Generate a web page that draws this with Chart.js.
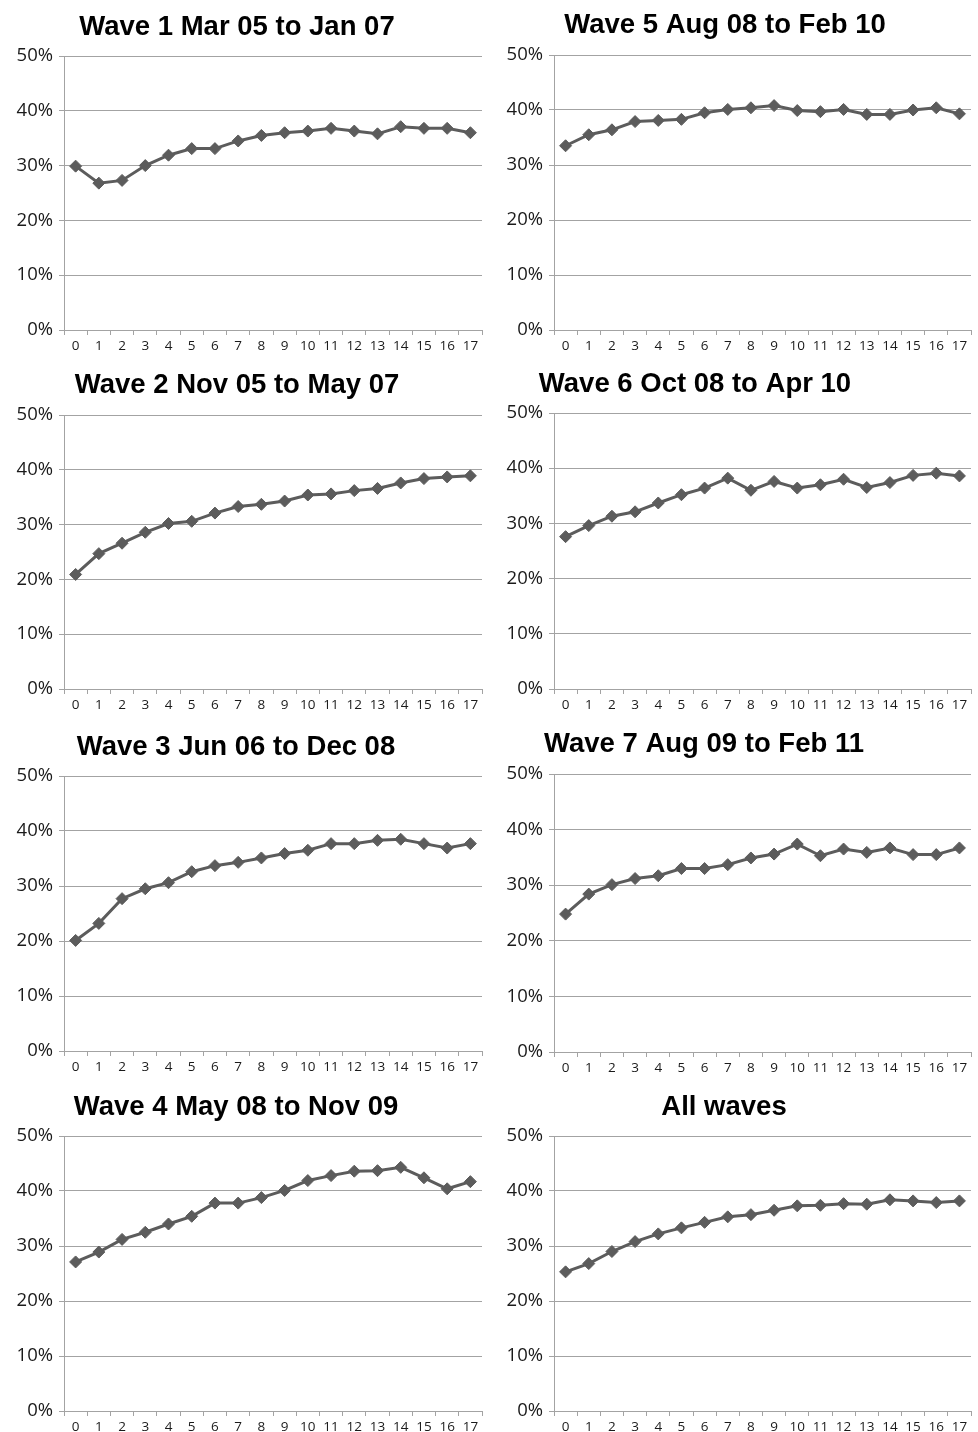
<!DOCTYPE html>
<html>
<head>
<meta charset="utf-8">
<script src="https://cdn.jsdelivr.net/npm/chart.js@4"></script>
<style>
  body { margin: 0; background: #fff; }
  #page { position: relative; width: 978px; height: 1432px; overflow: hidden; background: #fff; }
  #page canvas { position: absolute; }
</style>
</head>
<body>
<div id="page"></div>
<script>
// Months since start (x axis)
const months = ['0', '1', '2', '3', '4', '5', '6', '7', '8', '9',
                '10', '11', '12', '13', '14', '15', '16', '17'];

// Share of respondents, in %
const wave1 = [29.9, 26.8, 27.3, 30.0, 31.9, 33.1, 33.1, 34.5, 35.5, 36.0, 36.3, 36.8, 36.3, 35.8, 37.1, 36.8, 36.8, 36.0];
const wave2 = [20.9, 24.7, 26.6, 28.6, 30.2, 30.6, 32.1, 33.3, 33.7, 34.3, 35.4, 35.6, 36.2, 36.6, 37.6, 38.4, 38.7, 38.9];
const wave3 = [20.1, 23.2, 27.7, 29.5, 30.6, 32.6, 33.7, 34.3, 35.1, 35.9, 36.5, 37.7, 37.7, 38.3, 38.5, 37.7, 36.9, 37.7];
const wave4 = [27.1, 28.9, 31.2, 32.5, 34.0, 35.4, 37.8, 37.8, 38.8, 40.1, 41.9, 42.8, 43.6, 43.7, 44.3, 42.4, 40.4, 41.7];
const wave5 = [33.5, 35.5, 36.4, 37.9, 38.1, 38.3, 39.5, 40.1, 40.4, 40.8, 39.9, 39.7, 40.1, 39.2, 39.2, 40.0, 40.4, 39.3];
const wave6 = [27.6, 29.6, 31.3, 32.1, 33.7, 35.2, 36.4, 38.2, 36.0, 37.6, 36.4, 37.0, 38.0, 36.5, 37.4, 38.7, 39.1, 38.6];
const wave7 = [24.8, 28.4, 30.1, 31.2, 31.7, 33.0, 33.0, 33.7, 34.9, 35.6, 37.4, 35.3, 36.5, 35.9, 36.7, 35.5, 35.5, 36.7];
const allWaves = [25.3, 26.8, 29.0, 30.8, 32.2, 33.3, 34.3, 35.3, 35.7, 36.5, 37.3, 37.4, 37.7, 37.6, 38.4, 38.2, 37.9, 38.2];

// Y axis ticks (%)
const yMin = 0;
const yMax = 50;
const yStep = 10;

// Panels: title, series and where the panel sits on the page
const panels = [
    { title: 'Wave 1 Mar 05 to Jan 07', data: wave1,    left: 0,   top: 0,    titleX: 237, titleY: 35, plotTop: 56, plotBottom: 330 },
    { title: 'Wave 2 Nov 05 to May 07', data: wave2,    left: 0,   top: 360,  titleX: 237, titleY: 33, plotTop: 55, plotBottom: 329 },
    { title: 'Wave 3 Jun 06 to Dec 08', data: wave3,    left: 0,   top: 720,  titleX: 236, titleY: 35, plotTop: 56, plotBottom: 331 },
    { title: 'Wave 4 May 08 to Nov 09', data: wave4,    left: 0,   top: 1080, titleX: 236, titleY: 35, plotTop: 56, plotBottom: 331 },
    { title: 'Wave 5 Aug 08 to Feb 10', data: wave5,    left: 489, top: 0,    titleX: 236, titleY: 33, plotTop: 55, plotBottom: 330 },
    { title: 'Wave 6 Oct 08 to Apr 10', data: wave6,    left: 489, top: 360,  titleX: 206, titleY: 32, plotTop: 53, plotBottom: 329 },
    { title: 'Wave 7 Aug 09 to Feb 11', data: wave7,    left: 489, top: 720,  titleX: 215, titleY: 32, plotTop: 54, plotBottom: 332 },
    { title: 'All waves',               data: allWaves, left: 489, top: 1080, titleX: 235, titleY: 35, plotTop: 56, plotBottom: 331 }
];

const PANEL_W = 489;
const PAGE_H = 1432;
const X_AXIS_H = 22;
const LINE_COLOR = '#5c5c5c';
const GRID_COLOR = '#a3a3a3';

// Plugin that draws the bold title centred on a given x
const panelTitle = {
    id: 'panelTitle',
    afterDraw(chart, args, opts) {
        const ctx = chart.ctx;
        ctx.save();
        ctx.font = 'bold 27.5px "Liberation Sans", Arial, sans-serif';
        ctx.fillStyle = '#000';
        ctx.textAlign = 'center';
        ctx.textBaseline = 'alphabetic';
        ctx.fillText(opts.text, opts.x, opts.y);
        ctx.restore();
    }
};

function buildPanel(panel) {
    const page = document.getElementById('page');
    const canvas = document.createElement('canvas');
    const height = Math.min(360, PAGE_H - panel.top);
    canvas.width = PANEL_W;
    canvas.height = height;
    canvas.style.left = panel.left + 'px';
    canvas.style.top = panel.top + 'px';
    canvas.style.width = PANEL_W + 'px';
    canvas.style.height = height + 'px';
    page.appendChild(canvas);

    const yAxisW = panel.left === 0 ? 64 : 65;

    new Chart(canvas, {
        type: 'line',
        data: {
            labels: months,
            datasets: [{
                data: panel.data,
                borderColor: LINE_COLOR,
                backgroundColor: LINE_COLOR,
                borderWidth: 3,
                tension: 0,
                pointStyle: 'rectRot',
                pointRadius: 6,
                pointBorderWidth: 1,
                pointBackgroundColor: LINE_COLOR,
                pointBorderColor: LINE_COLOR
            }]
        },
        plugins: [panelTitle],
        options: {
            responsive: false,
            animation: false,
            devicePixelRatio: 1,
            layout: {
                padding: {
                    left: 0,
                    right: 7,
                    top: panel.plotTop,
                    bottom: height - panel.plotBottom - X_AXIS_H
                }
            },
            plugins: {
                legend: { display: false },
                tooltip: { enabled: false },
                title: { display: false },
                panelTitle: { text: panel.title, x: panel.titleX, y: panel.titleY }
            },
            scales: {
                x: {
                    offset: true,
                    afterFit: (scale) => { scale.height = X_AXIS_H; },
                    grid: {
                        offset: true,
                        drawOnChartArea: false,
                        drawTicks: true,
                        tickLength: 5,
                        color: GRID_COLOR
                    },
                    border: { color: GRID_COLOR, width: 1 },
                    ticks: {
                        color: '#1a1a1a',
                        padding: 3,
                        maxRotation: 0,
                        autoSkip: false,
                        font: { family: '"Open Sans", sans-serif', size: 13.5 }
                    }
                },
                y: {
                    min: yMin,
                    max: yMax,
                    afterFit: (scale) => { scale.width = yAxisW; },
                    grid: {
                        color: GRID_COLOR,
                        lineWidth: 1,
                        drawTicks: true,
                        tickLength: 5
                    },
                    border: { color: GRID_COLOR, width: 1 },
                    ticks: {
                        stepSize: yStep,
                        padding: 6,
                        color: '#1a1a1a',
                        font: { family: '"Open Sans", sans-serif', size: 18.5 },
                        callback: (value) => value + '%'
                    }
                }
            }
        }
    });
}

panels.forEach(buildPanel);
</script>
</body>
</html>
